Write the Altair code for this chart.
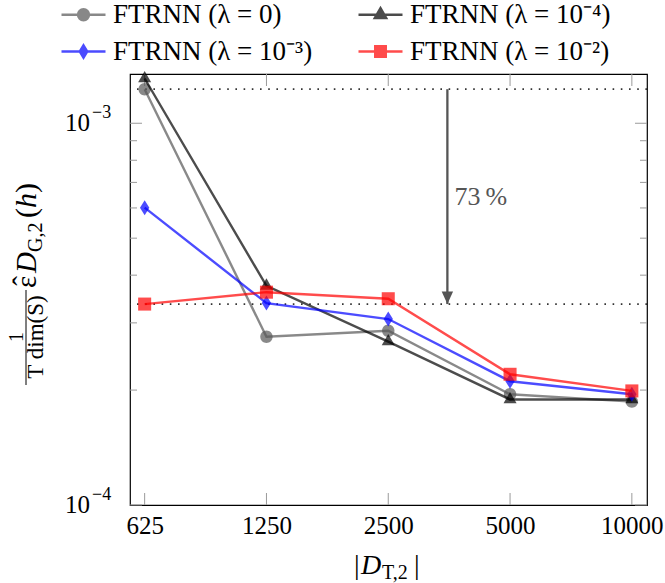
import altair as alt
import pandas as pd

# ---------------- data ----------------
sizes = [625, 1250, 2500, 5000, 10000]
series_names = ["FTRNN (λ = 0)", "FTRNN (λ = 10⁻⁴)", "FTRNN (λ = 10⁻³)", "FTRNN (λ = 10⁻²)"]
err_lambda_0 = [1.228e-3, 2.76e-4, 2.86e-4, 1.95e-4, 1.866e-4]
err_lambda_1e4 = [1.31e-3, 3.75e-4, 2.68e-4, 1.89e-4, 1.89e-4]
err_lambda_1e3 = [6.01e-4, 3.38e-4, 3.07e-4, 2.11e-4, 1.95e-4]
err_lambda_1e2 = [3.36e-4, 3.61e-4, 3.47e-4, 2.20e-4, 1.99e-4]

ref_levels = [1.228e-3, 3.36e-4]
arrow_x = 3500
reduction_text = "73\u2009%"

x_ticks = [625, 1250, 2500, 5000, 10000]
y_major = [1e-4, 1e-3]
y_major_base = ["10", "10"]
y_major_exp = ["−4", "−3"]
y_minor = [2e-4, 3e-4, 4e-4, 5e-4, 6e-4, 7e-4, 8e-4, 9e-4]

# ---------------- style ----------------
FONT = "Liberation Serif"
W, H = 517, 431
colors = ["#575757", "#000000", "#0000ff", "#ff0000"]
point_paths = [
    "M-0.95,0A0.95,0.95,0,1,0,0.95,0A0.95,0.95,0,1,0,-0.95,0Z",
    "M0,-1.15L1,0.58L-1,0.58Z",
    "M0,-1.15L0.72,0L0,1.15L-0.72,0Z",
    "M-1,-1L1,-1L1,1L-1,1Z",
]
legend_paths = [
    "M-1,0L1,0 M-0.25,0A0.25,0.25,0,1,0,0.25,0A0.25,0.25,0,1,0,-0.25,0Z",
    "M-1,0L1,0 M0,-0.3L0.26,0.15L-0.26,0.15Z",
    "M-1,0L1,0 M0,-0.28L0.17,0L0,0.28L-0.17,0Z",
    "M-1,0L1,0 M-0.24,-0.24L0.24,-0.24L0.24,0.24L-0.24,0.24Z",
]

df = pd.DataFrame({
    "size": sizes * 4,
    "err": err_lambda_0 + err_lambda_1e4 + err_lambda_1e3 + err_lambda_1e2,
    "series": [s for s in series_names for _ in sizes],
})

xscale = alt.Scale(type="log", base=2, domain=[575, 10900], nice=False)
yscale = alt.Scale(type="log", domain=[1e-4, 1.346e-3], nice=False)
xaxis = alt.Axis(values=x_ticks, format="d", labelFont=FONT, labelFontSize=25,
                 labelColor="black", labelPadding=8, ticks=False, domain=False,
                 grid=False, title=None, labelFlush=False, labelOverlap=False)

layers = []

# inward ticks
xt = pd.DataFrame({"x": x_ticks})
for y0, y1 in [(H, H - 12), (0, 12)]:
    layers.append(alt.Chart(xt).mark_rule(color="#9a9a9a", strokeWidth=1).encode(
        x=alt.X("x:Q", scale=xscale, axis=xaxis), y=alt.value(y0), y2=alt.value(y1)))
ym = pd.DataFrame({"v": y_major, "base": y_major_base, "exp": y_major_exp})
yn = pd.DataFrame({"v": y_minor})
for d, L in [(ym, 12), (yn, 7)]:
    for x0, x1 in [(0, L), (W, W - L)]:
        layers.append(alt.Chart(d).mark_rule(color="#9a9a9a", strokeWidth=1).encode(
            y=alt.Y("v:Q", scale=yscale, axis=None), x=alt.value(x0), x2=alt.value(x1)))

# y tick labels (10^k)
layers.append(alt.Chart(ym).mark_text(align="right", baseline="middle", font=FONT,
                                      fontSize=25, color="black").encode(
    y=alt.Y("v:Q", scale=yscale, axis=None), x=alt.value(-40), text="base:N"))
layers.append(alt.Chart(ym).mark_text(align="left", baseline="middle", font=FONT,
                                      fontSize=18, color="black", dy=-10).encode(
    y=alt.Y("v:Q", scale=yscale, axis=None), x=alt.value(-38), text="exp:N"))

# dotted reference levels
refdf = pd.DataFrame({"y": ref_levels})
layers.append(alt.Chart(refdf).mark_rule(color="#333333", strokeWidth=1.7,
                                         strokeDash=[1.6, 6.6]).encode(
    y=alt.Y("y:Q", scale=yscale, axis=None)))

# arrow + label
arr = pd.DataFrame({"x": [arrow_x], "y": [ref_levels[0]], "y2": [ref_levels[1]],
                    "ym": [(ref_levels[0] * ref_levels[1]) ** 0.5], "t": [reduction_text]})
layers.append(alt.Chart(arr).mark_rule(color="#555555", strokeWidth=2.3).encode(
    x=alt.X("x:Q", scale=xscale, axis=xaxis), y=alt.Y("y:Q", scale=yscale, axis=None),
    y2=alt.Y2("y2:Q")))
layers.append(alt.Chart(arr).mark_point(shape="M-0.95,-1.1L0.95,-1.1L0,1Z", filled=True,
                                        size=144, color="#555555", opacity=1, yOffset=-6).encode(
    x=alt.X("x:Q", scale=xscale, axis=xaxis), y=alt.Y("y2:Q", scale=yscale, axis=None)))
layers.append(alt.Chart(arr).mark_text(align="left", baseline="middle", dx=7, font=FONT,
                                       fontSize=26, color="#555555").encode(
    x=alt.X("x:Q", scale=xscale, axis=xaxis), y=alt.Y("ym:Q", scale=yscale, axis=None),
    text="t:N"))

# series: line then markers, in drawing order
for i, s in enumerate(series_names):
    sub = alt.Chart(df).transform_filter(alt.datum.series == s)
    enc = dict(x=alt.X("size:Q", scale=xscale, axis=xaxis),
               y=alt.Y("err:Q", scale=yscale, axis=None))
    layers.append(sub.mark_line(strokeWidth=2.4, opacity=0.7, color=colors[i]).encode(**enc))
    layers.append(sub.mark_point(filled=True, opacity=0.7, size=170, color=colors[i],
                                 shape=point_paths[i]).encode(**enc))

# legend (symbols with line + marker); its own layer draws nothing in the plot
leg = alt.Legend(title=None, orient="none", legendX=-70, legendY=-83, direction="horizontal",
                 columns=2, symbolSize=1936, symbolStrokeWidth=2.4, symbolOpacity=0.7,
                 labelFont=FONT, labelFontSize=27, labelColor="black", labelOffset=6,
                 columnPadding=40, rowPadding=0, labelLimit=600, padding=0)
layers.append(alt.Chart(df).transform_filter("false").mark_point(filled=True, opacity=0.7).encode(
    x=alt.X("size:Q", scale=xscale, axis=xaxis),
    y=alt.Y("err:Q", scale=yscale, axis=None),
    fill=alt.Fill("series:N", scale=alt.Scale(domain=series_names, range=colors), legend=leg),
    stroke=alt.Stroke("series:N", scale=alt.Scale(domain=series_names, range=colors), legend=leg),
    shape=alt.Shape("series:N", scale=alt.Scale(domain=series_names, range=legend_paths), legend=leg),
))

# axis titles composed of text pieces (sub/superscripts)
one = pd.DataFrame({"a": [0]})
def txt(text, x, y, size=26, style="normal", align="left", angle=0, baseline="alphabetic"):
    return alt.Chart(one).mark_text(text=text, align=align, baseline=baseline, angle=angle,
                                    font=FONT, fontSize=size, fontStyle=style,
                                    color="black").encode(x=alt.value(x), y=alt.value(y))

# x title |D_{T,2}|
layers += [
    txt("|", 224, 500, size=28),
    txt("D", 231, 500, size=28, style="italic"),
    txt("T,2", 252, 505, size=20),
    txt("|", 284, 500, size=28),
]
# y title  1/(T dim(S)) eps_hat_{D_{G,2}}(h)
layers += [
    txt("1", -107, 263, size=20, align="center", angle=270),
    alt.Chart(one).mark_rule(color="black", strokeWidth=1).encode(
        x=alt.value(-104), y=alt.value(216), y2=alt.value(311)),
    txt("T dim(S)", -87, 263, size=23, align="center", angle=270),
    txt("ε", -94, 214, size=29, angle=270),
    txt("ˆ", -97, 207, size=29, align="center", angle=270),
    txt("D", -94, 199, size=29, style="italic", angle=270),
    txt("G,2", -88, 178, size=20, angle=270),
    txt("(", -94, 144, size=30, angle=270),
    txt("h", -94, 134, size=30, style="italic", angle=270),
    txt(")", -94, 119, size=30, angle=270),
]

chart = alt.layer(*layers).properties(
    width=W, height=H,
    padding={"left": 130, "top": 74, "right": 18, "bottom": 78},
    autosize=alt.AutoSizeParams(type="none"),
    background="white",
).configure(font=FONT).configure_view(stroke="black", strokeWidth=1.2).configure_legend(
    labelFont=FONT, labelFontSize=27, labelColor="black"
)

chart.save("out.html", embed_options={"renderer": "svg", "actions": False})
